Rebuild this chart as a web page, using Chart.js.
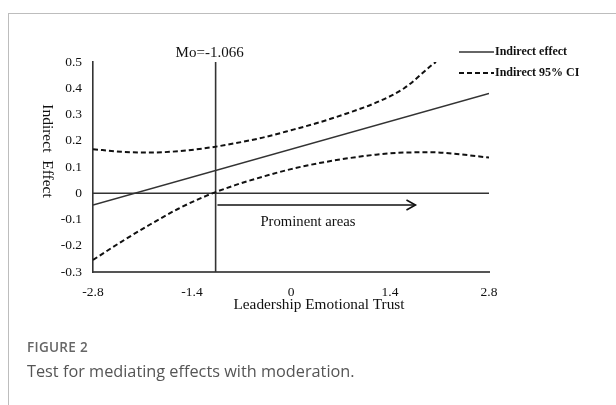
<!DOCTYPE html>
<html>
<head>
<meta charset="utf-8">
<script src="https://cdn.jsdelivr.net/npm/chart.js@4.4.0/dist/chart.umd.min.js"></script>
<style>
    body { margin: 0; background: #fff; }
    #wrap { position: relative; width: 616px; height: 405px; overflow: hidden; background: #fff; }
    #frame { position: absolute; left: 8px; top: 13px; width: 700px; height: 500px; border-left: 1px solid #bdbdbd; border-top: 1px solid #bdbdbd; }
    #chart { position: absolute; left: 0; top: 0; }
    .fig-label { position: absolute; left: 27px; top: 338px; font: 600 13.5px "Open Sans", sans-serif; color: #666; letter-spacing: 0.3px; }
    .fig-caption { position: absolute; left: 27px; top: 360px; font: 16.3px "Open Sans", sans-serif; color: #555; }
</style>
</head>
<body>
<div id="wrap">
    <div id="frame"></div>
    <canvas id="chart" width="616" height="405"></canvas>
    <div class="fig-label">FIGURE 2</div>
    <div class="fig-caption">Test for mediating effects with moderation.</div>
</div>
<script>
// Test for mediating effects with moderation

const xTicks = [-2.8, -1.4, 0, 1.4, 2.8];
const yTicks = [-0.3, -0.2, -0.1, 0, 0.1, 0.2, 0.3, 0.4, 0.5];

// Indirect effect (straight line)
const effectX = [-2.8, 2.8];
const effectY = [-0.045, 0.38];

// Indirect 95% CI, upper bound
const upperX = [-2.8, -2.4, -2.0, -1.6, -1.2, -0.8, -0.4, 0, 0.4, 0.8, 1.2, 1.6, 2.0, 2.05];
const upperY = [0.168, 0.158, 0.155, 0.16, 0.172, 0.19, 0.212, 0.24, 0.27, 0.305, 0.345, 0.4, 0.49, 0.5];

// Indirect 95% CI, lower bound
const lowerX = [-2.8, -2.4, -2.0, -1.6, -1.2, -0.8, -0.4, 0, 0.4, 0.8, 1.2, 1.6, 2.0, 2.4, 2.8];
const lowerY = [-0.254, -0.185, -0.12, -0.06, -0.01, 0.03, 0.063, 0.092, 0.115, 0.133, 0.147, 0.155, 0.156, 0.148, 0.136];

// Moderator value, zero reference and "prominent areas" arrow
const moValue = -1.066;
const moLabel = 'Mo=-1.066';
const arrowX = [-1.04, 1.76];
const arrowY = -0.045;
const areaLabel = 'Prominent areas';
const areaLabelAt = [0.24, -0.11];

const legendLabels = ['Indirect effect', 'Indirect 95% CI'];
const xTitle = 'Leadership Emotional Trust';
const yTitle = 'Indirect  Effect';

const serif = '"Liberation Serif", "Times New Roman", serif';

function toPoints(xs, ys) {
    return xs.map((x, i) => ({ x: x, y: ys[i] }));
}

function fmt(v) {
    if (Math.abs(v) < 1e-9) return '0';
    return v.toFixed(1);
}

// Extra drawing: axis titles, labels, arrow head, legend
const extras = {
    id: 'extras',
    afterDraw(chart) {
        const ctx = chart.ctx;
        const xs = chart.scales.x;
        const ys = chart.scales.y;
        const area = chart.chartArea;
        ctx.save();
        ctx.fillStyle = '#111';

        // Mo label
        ctx.font = '15px ' + serif;
        ctx.textAlign = 'center';
        ctx.textBaseline = 'middle';
        ctx.fillText(moLabel, xs.getPixelForValue(moValue) - 6, area.top - 9);

        // arrow head
        const ax = xs.getPixelForValue(arrowX[1]);
        const ay = ys.getPixelForValue(arrowY);
        ctx.strokeStyle = '#111';
        ctx.lineWidth = 1.6;
        ctx.beginPath();
        ctx.moveTo(ax - 9, ay - 5);
        ctx.lineTo(ax, ay);
        ctx.lineTo(ax - 9, ay + 5);
        ctx.stroke();

        // prominent areas
        ctx.font = '14.7px ' + serif;
        ctx.fillText(areaLabel, xs.getPixelForValue(areaLabelAt[0]), ys.getPixelForValue(areaLabelAt[1]));

        // x title
        ctx.font = '15.3px ' + serif;
        ctx.fillText(xTitle, 319, 305);

        // y title
        ctx.save();
        ctx.translate(47, 151);
        ctx.rotate(Math.PI / 2);
        ctx.font = '15.5px ' + serif;
        ctx.fillText(yTitle, 0, 0);
        ctx.restore();

        // legend
        const ds = chart.data.datasets;
        const rows = [ds[0], ds[1]];
        ctx.font = 'bold 12px ' + serif;
        ctx.textAlign = 'left';
        rows.forEach((d, i) => {
            const y = 52 + i * 21;
            ctx.beginPath();
            ctx.strokeStyle = d.borderColor;
            ctx.lineWidth = d.borderWidth;
            ctx.setLineDash(d.borderDash || []);
            ctx.moveTo(459, y);
            ctx.lineTo(494, y);
            ctx.stroke();
            ctx.setLineDash([]);
            ctx.fillText(legendLabels[i], 495, y);
        });
        ctx.restore();
    }
};

const ctx = document.getElementById('chart');
new Chart(ctx, {
    type: 'line',
    data: {
        datasets: [
            {
                label: legendLabels[0],
                data: toPoints(effectX, effectY),
                borderColor: '#333',
                borderWidth: 1.6,
                pointRadius: 0
            },
            {
                label: legendLabels[1],
                data: toPoints(upperX, upperY),
                borderColor: '#111',
                borderWidth: 2,
                borderDash: [5, 3],
                cubicInterpolationMode: 'monotone',
                pointRadius: 0
            },
            {
                label: 'lower',
                data: toPoints(lowerX, lowerY),
                borderColor: '#111',
                borderWidth: 2,
                borderDash: [5, 3],
                cubicInterpolationMode: 'monotone',
                pointRadius: 0
            },
            {
                label: 'zero',
                data: toPoints([xTicks[0], xTicks[xTicks.length - 1]], [0, 0]),
                borderColor: '#333',
                borderWidth: 1.6,
                pointRadius: 0
            },
            {
                label: 'mo',
                data: toPoints([moValue, moValue], [yTicks[0], yTicks[yTicks.length - 1]]),
                borderColor: '#333',
                borderWidth: 1.6,
                pointRadius: 0
            },
            {
                label: 'arrow',
                data: toPoints(arrowX, [arrowY, arrowY]),
                borderColor: '#111',
                borderWidth: 1.6,
                pointRadius: 0
            }
        ]
    },
    options: {
        responsive: false,
        animation: false,
        layout: { padding: { left: 0, top: 62, right: 127, bottom: 0 } },
        plugins: {
            legend: { display: false },
            tooltip: { enabled: false }
        },
        scales: {
            x: {
                type: 'linear',
                min: xTicks[0],
                max: xTicks[xTicks.length - 1],
                afterBuildTicks: s => { s.ticks = xTicks.map(v => ({ value: v })); },
                afterFit: s => { s.height = 133; },
                grid: { display: false, drawTicks: false },
                border: { display: true, color: '#555', width: 2 },
                ticks: {
                    color: '#111',
                    padding: 12,
                    maxRotation: 0,
                    font: { family: serif, size: 13.5 },
                    callback: v => fmt(v)
                }
            },
            y: {
                type: 'linear',
                min: yTicks[0],
                max: yTicks[yTicks.length - 1],
                afterBuildTicks: s => { s.ticks = yTicks.map(v => ({ value: v })); },
                afterFit: s => { s.width = 93; },
                grid: { display: false, drawTicks: false },
                border: { display: true, color: '#333', width: 1.6 },
                ticks: {
                    color: '#111',
                    padding: 11,
                    font: { family: serif, size: 13.5 },
                    callback: v => fmt(v)
                }
            }
        }
    },
    plugins: [extras]
});
</script>
</body>
</html>
